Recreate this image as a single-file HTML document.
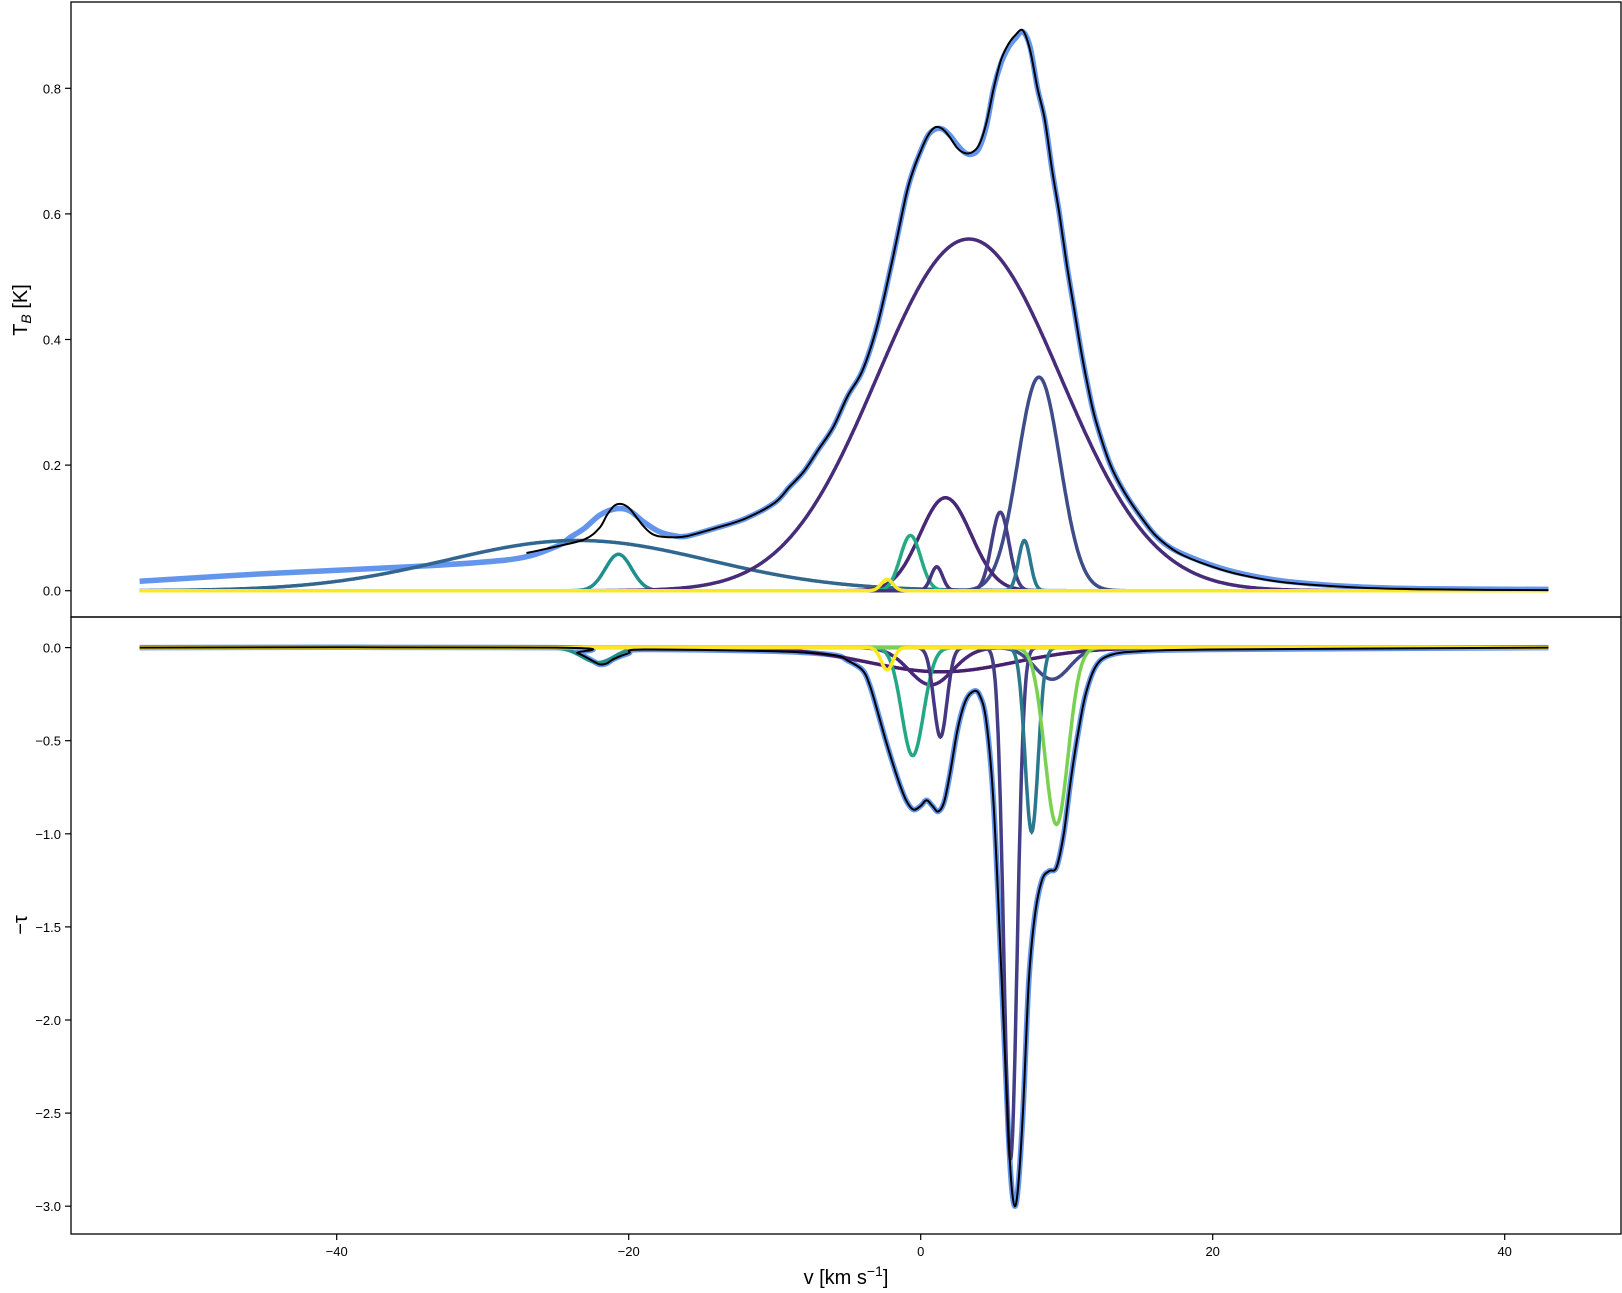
<!DOCTYPE html>
<html><head><meta charset="utf-8"><style>
html,body{margin:0;padding:0;background:#fff}
svg{display:block;font-family:"Liberation Sans","DejaVu Sans",sans-serif}
</style></head><body>
<svg id="chart" width="1622" height="1293" viewBox="0 0 1622 1293" xmlns="http://www.w3.org/2000/svg">
<g id="gTop"></g>
<g id="gBot"></g>
<g id="gAxes"></g>
<text transform="translate(27,310) rotate(-90)" font-size="20" text-anchor="middle">T<tspan font-size="14" dy="4" font-style="italic">B</tspan><tspan dy="-4"> [K]</tspan></text>
<text transform="translate(27,925) rotate(-90)" font-size="20" text-anchor="middle">−τ</text>
<text x="846" y="1284" font-size="20" text-anchor="middle">v [km s<tspan font-size="14" dy="-8">−1</tspan><tspan dy="8">]</tspan></text>
</svg>
<script>
// ---- data ----
const xTicks = [-40, -20, 0, 20, 40];
const tbTicks = [0.0, 0.2, 0.4, 0.6, 0.8];
const tauTicks = [0.0, -0.5, -1.0, -1.5, -2.0, -2.5, -3.0];
const tbAmp   = [0.56, 0.34, 0.148, 0.125, 0.08, 0.088, 0.038, 0.018, 0.058, 0.08];
const tbCen   = [3.3, 8.1, 1.7, 5.45, 7.1, -0.7, 1.1, -2.3, -20.7, -23.5];
const tbSig   = [6.3, 1.45, 1.75, 0.6, 0.4, 0.7, 0.4, 0.4, 0.9, 9.0];
const tbCol   = ["#472c7a","#3e4c8a","#482777","#433e85","#2a788e","#25ab82","#46327e","#fde725","#21908d","#31668e"];
const tauAmp  = [2.75, 0.99, 0.95, 0.58, 0.48, 0.2, 0.13, 0.17, 0.12, 0.08];
const tauCen  = [6.15, 7.6, 9.3, -0.55, 1.35, 0.7, 1.4, 9.0, -2.3, -22.1];
const tauSig  = [0.45, 0.45, 0.8, 0.75, 0.45, 1.5, 5.0, 1.2, 0.4, 1.1];
const tauCol  = ["#433e85","#2a788e","#7ad151","#22a884","#453781","#482878","#481f70","#3e4a89","#fde725","#21908d"];
// observed brightness temperature
const obsV  = [-53.5,-45,-35,-28,-25,-24,-23,-22,-21,-20,-19,-18,-17,-16,-14,-12,-10,-9,-8,-7,-6,-5,-4,-3,-2,-1,-0.5,0,0.5,1,1.5,2,2.5,3,3.5,4,4.5,5,5.5,6,6.5,7,7.5,8,8.5,9,9.5,10,10.5,11,11.5,12,13,14,15,16,17,18,20,22,25,30,35,43];
const obsTB = [0.015,0.027,0.038,0.05,0.07,0.085,0.1,0.12,0.13,0.128,0.11,0.095,0.088,0.087,0.1,0.115,0.14,0.165,0.19,0.225,0.26,0.31,0.35,0.42,0.52,0.63,0.67,0.7,0.725,0.735,0.735,0.725,0.71,0.698,0.695,0.705,0.74,0.8,0.84,0.865,0.88,0.89,0.865,0.8,0.75,0.67,0.6,0.52,0.45,0.38,0.32,0.27,0.2,0.155,0.12,0.09,0.07,0.058,0.04,0.027,0.015,0.006,0.003,0.002];
// fitted total brightness temperature
const modV  = [-27,-25,-23,-22,-21.5,-21,-20.5,-20,-19.5,-19,-18.5,-18,-17,-16,-14,-12,-10,-9,-8,-7,-6,-5,-4,-3,-2,-1,-0.5,0,0.5,1,1.5,2,2.5,3,3.5,4,4.5,5,5.5,6,6.5,7,7.5,8,8.5,9,9.5,10,10.5,11,11.5,12,13,14,15,16,17,18,20,22,25,30,35,43];
const modTB = [0.06,0.07,0.082,0.1,0.12,0.135,0.138,0.132,0.118,0.103,0.092,0.087,0.085,0.087,0.1,0.115,0.14,0.165,0.19,0.225,0.26,0.31,0.35,0.42,0.52,0.63,0.67,0.7,0.725,0.738,0.735,0.722,0.705,0.697,0.698,0.71,0.745,0.8,0.845,0.87,0.885,0.892,0.86,0.8,0.75,0.67,0.6,0.52,0.45,0.38,0.32,0.27,0.2,0.155,0.12,0.09,0.07,0.056,0.038,0.025,0.013,0.005,0.002,0.001];
// observed and fitted optical depth (-tau)
const tauV   = [-53.5,-25,-23.5,-22.5,-22,-21.5,-21,-20,-19,-10,-6,-5,-4,-3.5,-3,-2.5,-2,-1.5,-1,-0.5,0,0.4,0.8,1.2,1.6,2,2.5,3,3.5,4,4.5,5,5.5,6,6.3,6.6,7,7.4,7.8,8.3,8.8,9.3,9.8,10.3,10.8,11.3,12,13,15,20,43];
const obsTau = [0,0,-0.03,-0.07,-0.09,-0.085,-0.06,-0.03,-0.01,-0.02,-0.04,-0.07,-0.12,-0.2,-0.33,-0.47,-0.6,-0.72,-0.82,-0.87,-0.85,-0.82,-0.85,-0.88,-0.83,-0.68,-0.45,-0.3,-0.24,-0.25,-0.4,-0.85,-1.7,-2.6,-2.95,-2.95,-2.5,-1.8,-1.45,-1.25,-1.2,-1.18,-1.0,-0.7,-0.45,-0.25,-0.1,-0.04,-0.02,-0.01,0];

const L=71,R=1621,T=2,MID=617,B=1234;
const X = v => 920.7 + v*14.6;
const Ytb = t => 590.7 - t*628;
const Yt = t => 647.6 + (-t)*186.2;
const NS="http://www.w3.org/2000/svg";
function mk(tag, attrs, parent){const e=document.createElementNS(NS,tag);for(const k in attrs)e.setAttribute(k,attrs[k]);parent.appendChild(e);return e;}
const gau=(a,c,s,v)=>a*Math.exp(-0.5*((v-c)/s)**2);
function smooth(pts){
 let d='M'+pts[0][0].toFixed(1)+','+pts[0][1].toFixed(1);
 for(let i=0;i<pts.length-1;i++){
  const p0=pts[Math.max(0,i-1)],p1=pts[i],p2=pts[i+1],p3=pts[Math.min(pts.length-1,i+2)];
  const c1=[p1[0]+(p2[0]-p0[0])/6,p1[1]+(p2[1]-p0[1])/6];
  const c2=[p2[0]-(p3[0]-p1[0])/6,p2[1]-(p3[1]-p1[1])/6];
  d+=' C'+c1[0].toFixed(1)+','+c1[1].toFixed(1)+' '+c2[0].toFixed(1)+','+c2[1].toFixed(1)+' '+p2[0].toFixed(1)+','+p2[1].toFixed(1);
 }
 return d;
}
const vs=[];for(let v=-53.5;v<=43.001;v+=0.05)vs.push(v);
const pTop=document.getElementById('gTop'), pBot=document.getElementById('gBot'), pAx=document.getElementById('gAxes');

let p=mk('path',{d:smooth(obsV.map((v,i)=>[X(v),Ytb(obsTB[i])])),fill:'none',stroke:'#6495ed','stroke-width':5.5},pTop);


const tbOrder=[9,8,0,1,2,3,4,5,6,7];
tbOrder.forEach(i=>{
 const e=mk('polyline',{points:vs.map(v=>X(v).toFixed(1)+','+Ytb(gau(tbAmp[i],tbCen[i],tbSig[i],v)).toFixed(1)).join(' '),fill:'none',stroke:tbCol[i],'stroke-width':3.5},pTop);
 
 
});
p=mk('path',{d:smooth(modV.map((v,i)=>[X(v),Ytb(modTB[i])])),fill:'none',stroke:'#000','stroke-width':2},pTop);



p=mk('path',{d:smooth(tauV.map((v,i)=>[X(v),Yt(obsTau[i])])),fill:'none',stroke:'#6495ed','stroke-width':5.5},pBot);


const tauOrder=[6,5,7,9,3,4,0,1,2,8];
tauOrder.forEach(i=>{
 const e=mk('polyline',{points:vs.map(v=>X(v).toFixed(1)+','+Yt(-gau(tauAmp[i],tauCen[i],tauSig[i],v)).toFixed(1)).join(' '),fill:'none',stroke:tauCol[i],'stroke-width':3.5},pBot);
 
 
});
p=mk('path',{d:smooth(tauV.map((v,i)=>[X(v),Yt(obsTau[i])])),fill:'none',stroke:'#000','stroke-width':2},pBot);



p=mk('rect',{x:L,y:T,width:R-L,height:MID-T,fill:'none',stroke:'#000','stroke-width':1.3},pAx);


p=mk('rect',{x:L,y:MID,width:R-L,height:B-MID,fill:'none',stroke:'#000','stroke-width':1.3},pAx);


xTicks.forEach(v=>{
 mk('line',{x1:X(v),x2:X(v),y1:B,y2:B+6,stroke:'#000','stroke-width':1.2},pAx);
 const t=mk('text',{x:X(v),y:B+22,'font-size':13,'text-anchor':'middle'},pAx);
 t.textContent=v===0?'0':(v<0?'\u2212'+(-v):String(v));
 
 
});
tbTicks.forEach(v=>{
 mk('line',{x1:L-6,x2:L,y1:Ytb(v),y2:Ytb(v),stroke:'#000','stroke-width':1.2},pAx);
 const t=mk('text',{x:L-10,y:Ytb(v)+5,'font-size':13,'text-anchor':'end'},pAx);
 t.textContent=v.toFixed(1);
 
 
});
tauTicks.forEach(v=>{
 mk('line',{x1:L-6,x2:L,y1:Yt(v),y2:Yt(v),stroke:'#000','stroke-width':1.2},pAx);
 const t=mk('text',{x:L-10,y:Yt(v)+5,'font-size':13,'text-anchor':'end'},pAx);
 t.textContent=(v<0?'\u2212':'')+Math.abs(v).toFixed(1);
 
 
});
</script>
</body></html>
